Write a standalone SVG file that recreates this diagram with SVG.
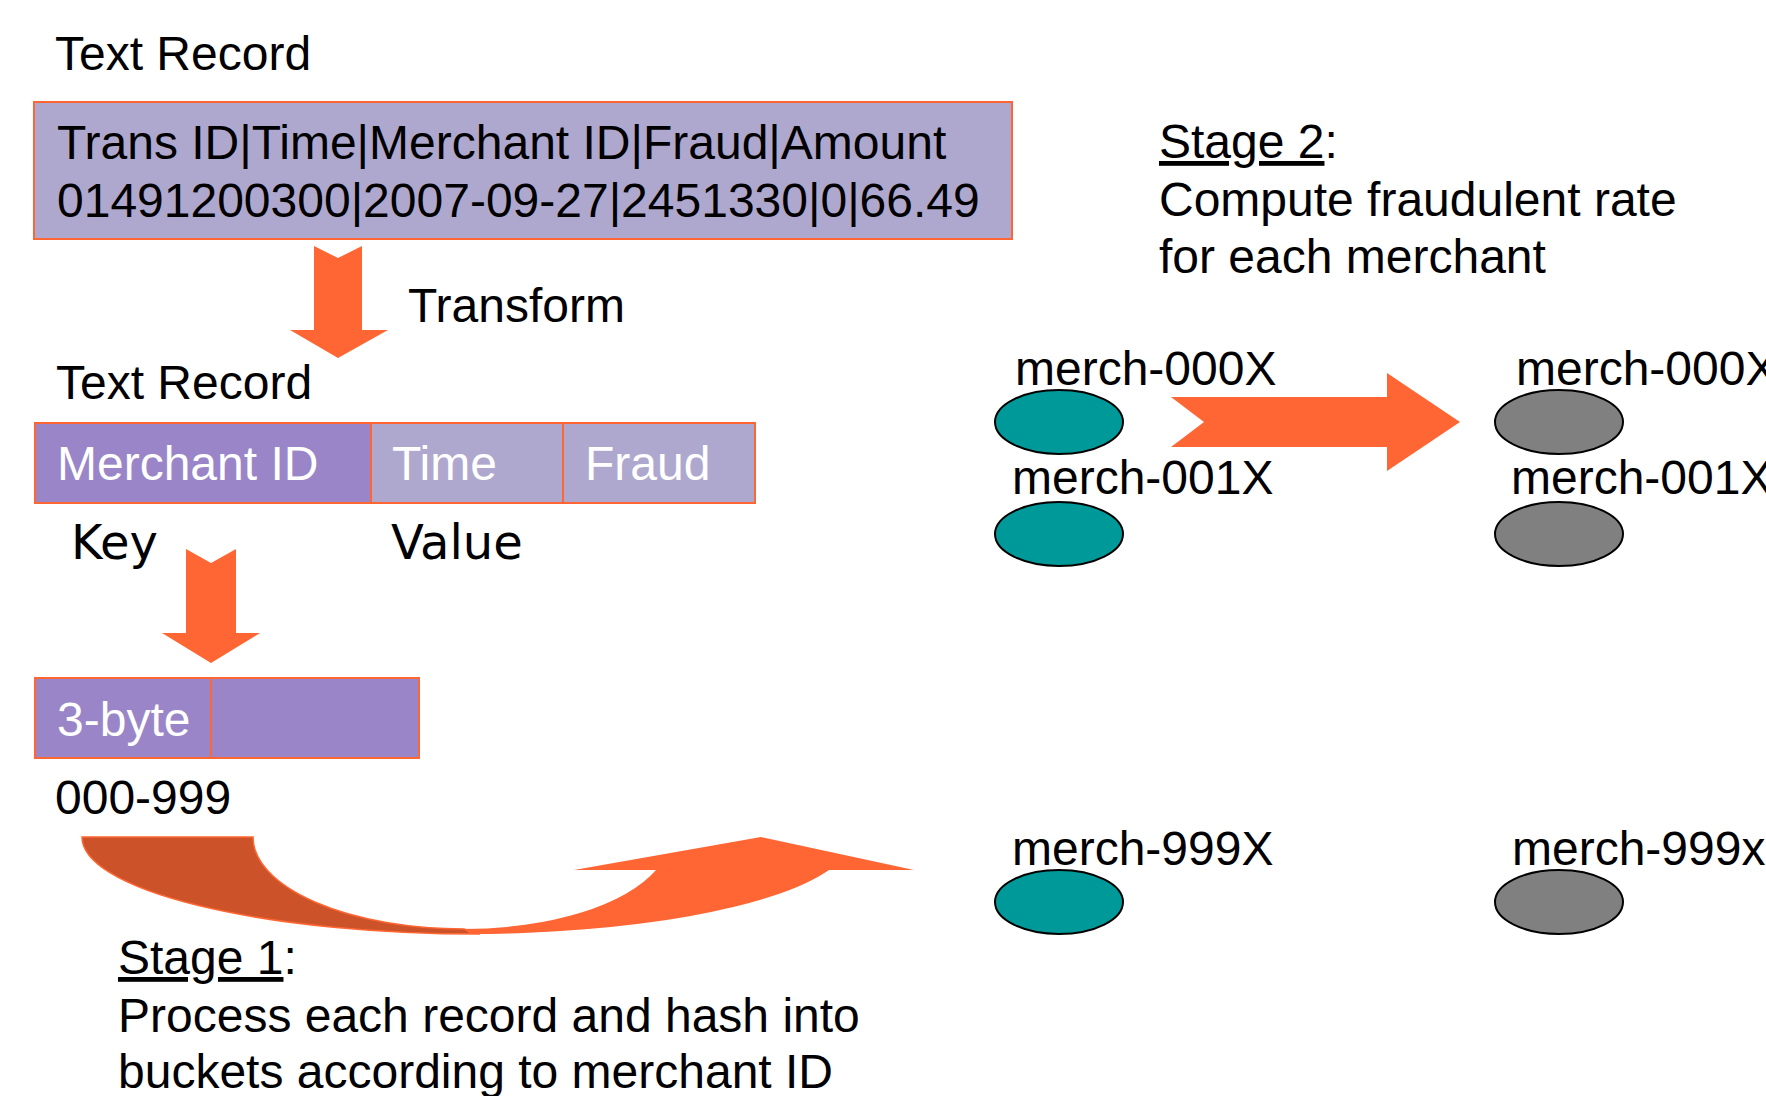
<svg xmlns="http://www.w3.org/2000/svg" width="1766" height="1096" viewBox="0 0 1766 1096">
  <style>
    .t { font-family: "Liberation Sans", Arial, sans-serif; font-size: 48px; fill: #000; }
    .w { font-family: "Liberation Sans", Arial, sans-serif; font-size: 48px; fill: #fff; }
    .v { font-family: "DejaVu Sans", Verdana, sans-serif; font-size: 48px; fill: #000; }
    .cell-lt { fill: #AFA8CE; stroke: #FF6633; stroke-width: 2; }
    .cell-dk { fill: #9985C8; stroke: #FF6633; stroke-width: 2; }
    .arrow { fill: #FF6633; }
    .teal { fill: #009999; stroke: #000; stroke-width: 2; }
    .gray { fill: #808080; stroke: #000; stroke-width: 2; }
    .u { text-decoration: underline; }
  </style>

  <rect width="1766" height="1096" fill="#fff"/>

  <!-- raw text record -->
  <g id="raw-record">
    <text class="t" x="55" y="70">Text Record</text>
    <rect class="cell-lt" x="34" y="102" width="978" height="137"/>
    <text class="t" x="57" y="159">Trans ID|Time|Merchant ID|Fraud|Amount</text>
    <text class="t" x="57" y="217">01491200300|2007-09-27|2451330|0|66.49</text>
  </g>

  <!-- key/value record -->
  <g id="kv-record">
    <text class="t" x="56" y="399">Text Record</text>
    <rect class="cell-dk" x="35" y="423" width="336" height="80"/>
    <rect class="cell-lt" x="371" y="423" width="192" height="80"/>
    <rect class="cell-lt" x="563" y="423" width="192" height="80"/>
    <text class="w" x="57" y="480">Merchant ID</text>
    <text class="w" x="392" y="480">Time</text>
    <text class="w" x="585" y="480">Fraud</text>
    <text class="v" x="71" y="559">Key</text>
    <text class="v" x="391" y="559">Value</text>
  </g>

  <!-- hashed key -->
  <g id="hash-key">
    <rect class="cell-dk" x="35" y="678" width="176" height="80"/>
    <rect class="cell-dk" x="211" y="678" width="208" height="80"/>
    <text class="w" x="57" y="736">3-byte</text>
    <text class="t" x="55" y="814">000-999</text>
  </g>

  <!-- stage descriptions -->
  <g id="stage1">
    <text class="t" x="118" y="974"><tspan class="u">Stage 1</tspan>:</text>
    <text class="t" x="118" y="1032">Process each record and hash into</text>
    <text class="t" x="118" y="1088">buckets according to merchant ID</text>
  </g>
  <g id="stage2">
    <text class="t" x="1159" y="158"><tspan class="u">Stage 2</tspan>:</text>
    <text class="t" x="1159" y="216">Compute fraudulent rate</text>
    <text class="t" x="1159" y="273">for each merchant</text>
  </g>

  <!-- stage 1 buckets -->
  <g id="bucket-000-in">
    <text class="t" x="1015" y="385">merch-000X</text>
    <ellipse class="teal" cx="1059" cy="422" rx="64" ry="32"/>
  </g>
  <g id="bucket-001-in">
    <text class="t" x="1012" y="494">merch-001X</text>
    <ellipse class="teal" cx="1059" cy="534" rx="64" ry="32"/>
  </g>
  <g id="bucket-999-in">
    <text class="t" x="1012" y="865">merch-999X</text>
    <ellipse class="teal" cx="1059" cy="902" rx="64" ry="32"/>
  </g>

  <!-- stage 2 results -->
  <g id="bucket-000-out">
    <text class="t" x="1516" y="385">merch-000X</text>
    <ellipse class="gray" cx="1559" cy="422" rx="64" ry="32"/>
  </g>
  <g id="bucket-001-out">
    <text class="t" x="1511" y="494">merch-001X</text>
    <ellipse class="gray" cx="1559" cy="534" rx="64" ry="32"/>
  </g>
  <g id="bucket-999-out">
    <text class="t" x="1512" y="865">merch-999x</text>
    <ellipse class="gray" cx="1559" cy="902" rx="64" ry="32"/>
  </g>

  <!-- connectors -->
  <g id="connectors">
    <!-- Transform -->
    <path class="arrow" d="M314,246 L338,258 L362,246 L362,330 L388,330 L338,358 L290,330 L314,330 Z"/>
    <text class="t" x="408" y="322">Transform</text>
    <!-- key to hash -->
    <path class="arrow" d="M186,549 L211,563 L236,549 L236,633 L260,633 L211,663 L162,633 L186,633 Z"/>
    <!-- curved arrow into buckets -->
    <path d="M82,837 L253,837 A211,92 0 0 0 464,929 L480,934 A398,97 0 0 1 82,837 Z" fill="#CC5229" stroke="#FF6633" stroke-width="1.5"/>
    <path class="arrow" d="M464,929 A206,92 0 0 0 656,870 L574,870 L761,837 L914,870 L829,870 A385,97 0 0 1 470,934 Z"/>
    <!-- stage 1 to stage 2 -->
    <path class="arrow" d="M1171,397 L1387,397 L1387,373 L1460,422 L1387,471 L1387,447 L1171,447 L1204,422 Z"/>
  </g>
</svg>
